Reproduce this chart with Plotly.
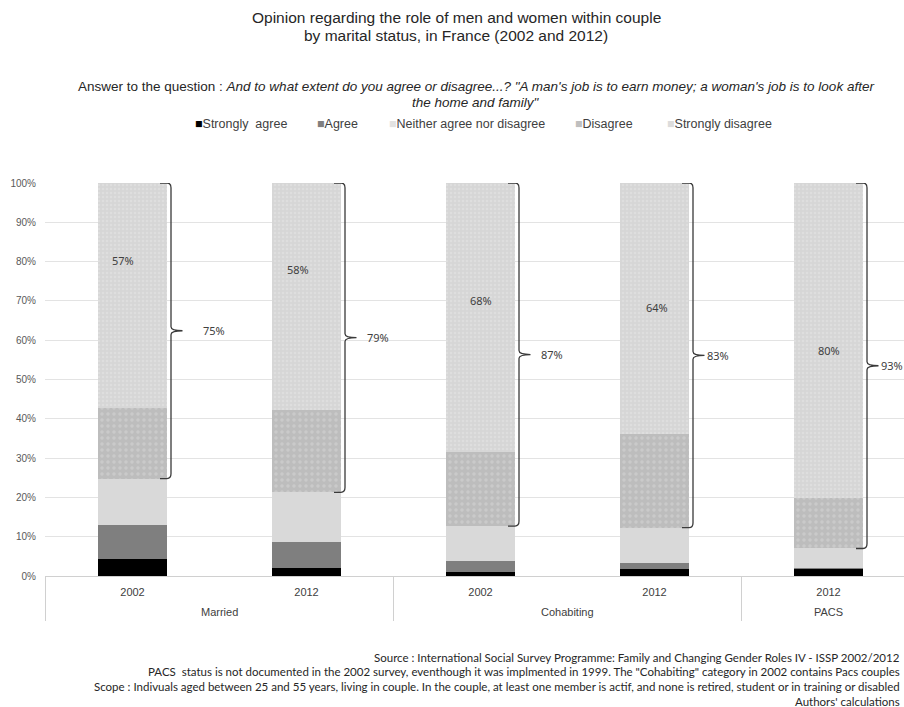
import plotly.graph_objects as go

# ---- data -------------------------------------------------------------
groups = ["Married", "Married", "Cohabiting", "Cohabiting", "PACS"]
years = ["2002", "2012", "2002", "2012", "2012"]

strongly_agree = [4.3, 2.0, 0.9, 1.8, 1.8]
agree = [8.6, 6.6, 3.0, 1.6, 0.2]
neither = [11.9, 12.7, 8.8, 8.9, 5.0]
disagree = [17.9, 20.9, 18.9, 23.9, 12.9]
strongly_disagree = [57.3, 57.8, 68.4, 63.8, 80.1]

# totals printed next to the braces (disagree + strongly disagree)
disagree_total_labels = ["75%", "79%", "87%", "83%", "93%"]

series_names = ["Strongly  agree", "Agree", "Neither agree nor disagree",
                "Disagree", "Strongly disagree"]

# ---- geometry helpers -------------------------------------------------
W, H = 904, 707
ML, MR, MT, MB = 45, 0, 183, 131
PLOT_H = H - MT - MB
PLOT_W = W - ML - MR
CAT_PX = 174.0                       # pixels per category
X0 = -0.5 - 0.5 / CAT_PX
X1 = X0 + PLOT_W / CAT_PX


def py(p):
    """pixel row -> paper y"""
    return (H - MB - p) / PLOT_H


def px(p):
    """pixel column -> paper x"""
    return (p - ML) / PLOT_W


xs = list(range(len(years)))
BAR_W = 0.4

fig = go.Figure()

fig.add_bar(x=xs, y=strongly_agree, name=series_names[0], width=BAR_W,
            marker=dict(color="#000000", line=dict(width=0)))
fig.add_bar(x=xs, y=agree, name=series_names[1], width=BAR_W,
            marker=dict(color="#7f7f7f", line=dict(width=0)))
fig.add_bar(x=xs, y=neither, name=series_names[2], width=BAR_W,
            marker=dict(color="#d9d9d9", line=dict(width=0)))
fig.add_bar(x=xs, y=disagree, name=series_names[3], width=BAR_W,
            marker=dict(color="#bdbdbd", line=dict(width=0),
                        pattern=dict(shape=".", fgcolor="#d8d8d8",
                                     bgcolor="#bdbdbd", size=6, solidity=0.25)))
fig.add_bar(x=xs, y=strongly_disagree, name=series_names[4], width=BAR_W,
            marker=dict(color="#d9d9d9", line=dict(width=0),
                        pattern=dict(shape=".", fgcolor="#e6e6e6",
                                     bgcolor="#d6d6d6", size=4, solidity=0.3)))

shapes = []
annotations = []

# ---- braces around disagree + strongly disagree ------------------------
HOOK = 27.5 / CAT_PX
LINE = 38.5 / CAT_PX
TIP = 50.0 / CAT_PX
R = 4.0 / CAT_PX
total_label_dx = [68, 58, 58, 50, 50]   # px from bar centre to label start
for i in xs:
    bottom = strongly_agree[i] + agree[i] + neither[i]
    top = bottom + disagree[i] + strongly_disagree[i]
    mid = (bottom + top) / 2
    h, l, t = i + HOOK, i + LINE, i + TIP
    path = (f"M {h},{top} L {l - R},{top} Q {l},{top} {l},{top - 1.2} "
            f"L {l},{mid + 1.0} Q {l},{mid} {t},{mid} "
            f"Q {l},{mid} {l},{mid - 1.0} "
            f"L {l},{bottom + 1.2} Q {l},{bottom} {l - R},{bottom} L {h},{bottom}")
    shapes.append(dict(type="path", path=path, xref="x", yref="y",
                       line=dict(color="#3a3a3a", width=1.3), layer="above"))
    annotations.append(dict(x=i + total_label_dx[i] / CAT_PX, y=mid, xref="x", yref="y",
                            text=disagree_total_labels[i], showarrow=False,
                            xanchor="left", yanchor="middle",
                            font=dict(family="Noto Sans", size=11, color="#404040")))

# ---- strongly-disagree share written inside the bar ---------------------
sd_label_y = [80.4, 78.1, 70.0, 68.2, 57.5]
sd_label_dx = [-10, -9, 0, 2, 0]
for i in xs:
    annotations.append(dict(x=i, y=sd_label_y[i], xref="x", yref="y",
                            xshift=sd_label_dx[i],
                            text=f"{round(strongly_disagree[i])}%", showarrow=False,
                            font=dict(family="Noto Sans", size=11, color="#404040")))

# ---- category axis: group labels and dividers ----------------------------
group_names = []
for g in groups:
    if g not in group_names:
        group_names.append(g)
for g in group_names:
    idx = [i for i, gg in enumerate(groups) if gg == g]
    annotations.append(dict(x=(idx[0] + idx[-1]) / 2, y=py(612), xref="x", yref="paper",
                            text=g, showarrow=False, yanchor="middle",
                            font=dict(family="Liberation Sans", size=11, color="#404040")))
    shapes.append(dict(type="line", xref="x", yref="paper",
                       x0=idx[0] - 0.5, x1=idx[0] - 0.5, y0=0, y1=py(621),
                       line=dict(color="#d0d0d0", width=1)))

# ---- titles ---------------------------------------------------------------
title_font = dict(family="Liberation Sans", size=15.5, color="#262626")
annotations.append(dict(x=px(456), y=py(17), xref="paper", yref="paper", showarrow=False,
                        text="Opinion regarding the role of men and women within couple",
                        font=title_font, yanchor="middle", xanchor="center"))
annotations.append(dict(x=px(456), y=py(35), xref="paper", yref="paper", showarrow=False,
                        text="by marital status, in France (2002 and 2012)",
                        font=title_font, yanchor="middle", xanchor="center"))

sub_font = dict(family="Liberation Sans", size=13.5, color="#262626")
annotations.append(dict(x=px(476), y=py(86), xref="paper", yref="paper", showarrow=False,
                        text="Answer to the question : <i>And to what extent do you agree or "
                             "disagree...? \"A man's job is to earn money; a woman's job is "
                             "to look after</i>",
                        font=sub_font, yanchor="middle", xanchor="center"))
annotations.append(dict(x=px(476), y=py(102), xref="paper", yref="paper", showarrow=False,
                        text="<i>the home and family\"</i>",
                        font=sub_font, yanchor="middle", xanchor="center"))

# ---- legend row -------------------------------------------------------------
legend_colors = ["#000000", "#7f7f7f", "#e2e2e2", "#bfbfbf", "#dcdcdc"]
legend_x = [193, 315, 387, 573, 665]
for name, col, lx in zip(series_names, legend_colors, legend_x):
    annotations.append(dict(x=px(lx), y=py(124), xref="paper", yref="paper",
                            showarrow=False, xanchor="left", yanchor="middle",
                            text=f"<span style='color:{col}'>■</span>{name}",
                            font=dict(family="Liberation Sans", size=12.5, color="#404040")))

# ---- footnotes ------------------------------------------------------------------
notes = [
    "Source : International Social Survey Programme: Family and Changing Gender Roles IV - ISSP 2002/2012",
    "PACS  status is not documented in the 2002 survey, eventhough it was implmented in 1999. "
    "The \"Cohabiting\" category in 2002 contains Pacs couples",
    "Scope : Indivuals aged between 25 and 55 years, living in couple. In the couple, at least one "
    "member is actif, and none is retired, student or in training or disabled",
    "Authors' calculations",
]
for k, note in enumerate(notes):
    annotations.append(dict(x=px(902), y=py(657 + 14.7 * k), xref="paper", yref="paper",
                            showarrow=False, xanchor="right", yanchor="middle",
                            text=note,
                            font=dict(family="Lato", size=11.5, color="#262626")))

fig.update_layout(
    width=W, height=H,
    margin=dict(l=ML, r=MR, t=MT, b=MB, pad=0),
    barmode="stack",
    plot_bgcolor="white", paper_bgcolor="white",
    showlegend=False,
    shapes=shapes,
    annotations=annotations,
    xaxis=dict(range=[X0, X1], tickmode="array", tickvals=xs, ticktext=years,
               showgrid=False, zeroline=False, showline=True, linecolor="#d0d0d0",
               linewidth=1, ticks="", ticklabelstandoff=6,
               tickfont=dict(family="Liberation Sans", size=11, color="#404040")),
    yaxis=dict(range=[0, 100], tickmode="array", tickvals=list(range(0, 101, 10)),
               ticktext=[f"{v}%" for v in range(0, 101, 10)],
               showgrid=True, gridcolor="#e3e3e3", gridwidth=1, zeroline=False,
               showline=False, ticks="", ticklabelstandoff=8,
               tickfont=dict(family="Liberation Sans", size=10, color="#595959")),
)

fig.write_html("out.html")
